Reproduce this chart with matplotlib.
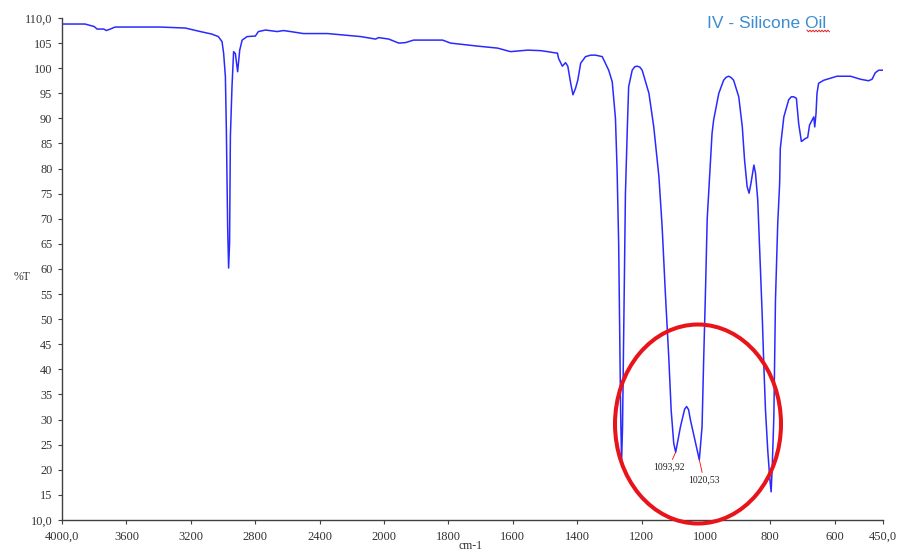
import numpy as np
import matplotlib
matplotlib.use('Agg')
import matplotlib.pyplot as plt
from matplotlib.patches import Ellipse
from matplotlib.lines import Line2D

# spectrum (wavenumber cm-1, %T)
wavenumber = [4000, 3857, 3800, 3782, 3740, 3725, 3700, 3670, 3390, 3234,
              3141, 3070, 3029, 3006, 2996, 2985, 2979, 2971, 2965, 2959,
              2954, 2944, 2934, 2923, 2909, 2896, 2881, 2850, 2799, 2780,
              2736, 2663, 2624, 2581, 2500, 2350, 2251, 2145, 2052, 2033,
              1985, 1954, 1933, 1908, 1818, 1793, 1709, 1647, 1607, 1554,
              1514, 1492, 1473, 1461, 1458, 1446, 1436, 1429, 1420, 1413,
              1405, 1398, 1389, 1374, 1358, 1343, 1322, 1302, 1291, 1281, 1276,
              1271, 1267, 1265, 1262, 1259, 1255, 1250, 1244, 1240, 1229, 1221,
              1213, 1205, 1198, 1177, 1162, 1146, 1136, 1126, 1115, 1108, 1100,
              1093.92, 1079, 1066, 1060, 1054, 1048, 1032, 1020.53, 1012, 1007, 1001.5, 996,
              988, 981, 976, 970, 960, 945, 937, 929, 921, 914, 898, 887,
              880, 872, 866, 860, 856, 851, 846, 841, 839, 833,
              825, 820, 815, 808, 802, 797.5, 794, 789, 784, 777,
              771, 769, 758, 743, 735, 727, 719, 712, 703.5, 691, 684,
              678, 670, 665, 662, 658, 655, 650, 634, 613, 593,
              551, 520, 495, 484, 474, 463, 450]
transmittance = [108.8, 108.8, 108.3, 107.8, 107.8, 107.5, 107.8, 108.2, 108.2, 108.0,
                 107.3, 106.8, 106.3, 105.3, 103.0, 98.3, 87.7, 68.4, 60.2, 65.2,
                 86.4, 96.3, 103.3, 102.9, 99.3, 103.6, 105.6, 106.3, 106.4, 107.3,
                 107.6, 107.3, 107.5, 107.3, 106.9, 106.9, 106.6, 106.3, 105.8, 106.1,
                 105.8, 105.0, 105.1, 105.6, 105.6, 105.0, 104.4, 104.0, 103.3, 103.6,
                 103.5, 103.3, 103.1, 103.0, 102.0, 100.4, 101.1, 100.4, 97.0, 94.7,
                 96.0, 97.6, 101.0, 102.3, 102.6, 102.6, 102.3, 99.6, 97.3, 90.0, 80.0,
                 65.0, 43.0, 32.0, 21.5, 28.6, 48.5, 75.0, 88.3, 96.3, 99.6, 100.3,
                 100.4, 100.2, 99.6, 95.0, 88.3, 78.4, 68.4, 55.2, 41.9, 31.9, 25.3,
                 23.5, 28.6, 32.1, 32.6, 32.0, 29.9, 25.3, 22.0, 28.6, 41.9, 55.2, 70.0,
                 79.0, 87.0, 89.7, 91.7, 95.0, 97.6, 98.2, 98.4, 98.1, 97.6, 94.3, 88.3,
                 81.7, 76.4, 75.1, 77.1, 78.7, 80.7, 79.1, 75.1, 73.7, 63.8,
                 50.5, 40.5, 31.9, 23.9, 18.6, 15.6, 20.6, 30.6, 53.8, 69.0,
                 77.1, 84.0, 90.3, 93.7, 94.3, 94.3, 94.0, 89.0, 85.4, 86.0, 86.2,
                 88.7, 89.7, 90.3, 88.3, 91.0, 95.0, 97.0, 97.6, 98.0, 98.4,
                 98.4, 97.8, 97.5, 97.8, 99.1, 99.6, 99.6]

x_ticks = [4000, 3600, 3200, 2800, 2400, 2000, 1800, 1600, 1400, 1200, 1000, 800, 600, 450]
x_ticklabels = ['4000,0', '3600', '3200', '2800', '2400', '2000', '1800', '1600',
                '1400', '1200', '1000', '800', '600', '450,0']
y_ticks = list(range(10, 111, 5))
y_ticklabels = ['10,0'] + [str(v) for v in y_ticks[1:-1]] + ['110,0']

peak_labels = ['1093,92', '1020,53']
peak_positions = [1093.92, 1020.53]


# spectrometer style axis: scale doubles below 2000 cm-1
def fwd(x):
    x = np.asarray(x, dtype=float)
    return np.where(x >= 2000, x, 2 * x - 2000)


def inv(y):
    y = np.asarray(y, dtype=float)
    return np.where(y >= 2000, y, (y + 2000) / 2)


serif = 'Liberation Serif'
fig = plt.figure(figsize=(9.05, 5.53), dpi=100)
ax = fig.add_axes([62 / 905, 1 - 520 / 553, (883 - 62) / 905, (520 - 18) / 553])
ax.set_xscale('function', functions=(fwd, inv))
ax.plot(wavenumber, transmittance, color='#2a2aff', lw=1.1)
ax.set_xlim(4000, 450)
ax.set_ylim(10, 110)

ax.set_xticks(x_ticks)
ax.set_xticklabels(x_ticklabels, fontsize=9, family=serif, color='#333333')
ax.xaxis.set_minor_locator(matplotlib.ticker.NullLocator())
ax.set_yticks(y_ticks)
ax.set_yticklabels(y_ticklabels, fontsize=8.8, family=serif, color='#333333')
ax.tick_params(axis='x', direction='out', length=3, width=0.8, color='#404040', pad=5)
ax.tick_params(axis='y', direction='out', length=3, width=0.8, color='#404040', pad=4)
for s in ['top', 'right']:
    ax.spines[s].set_visible(False)
for s in ['left', 'bottom']:
    ax.spines[s].set_color('#404040')
    ax.spines[s].set_linewidth(1.0)

fig.text(470 / 905, 1 - 546 / 553, 'cm-1', fontsize=8.5, family=serif, color='#333333',
         ha='center', va='center')
fig.text(22 / 905, 1 - 277 / 553, '%T', fontsize=8.5, family=serif, color='#333333',
         ha='center', va='center')

# peak labels with red leader lines
offsets = [(-4.7, -10.4), (3.2, -14.4)]
for lab, pos, off in zip(peak_labels, peak_positions, offsets):
    yv = transmittance[wavenumber.index(pos)]
    ax.annotate(lab, xy=(pos, yv), xytext=off, textcoords='offset points',
                fontsize=7, family=serif, color='#222222', ha='center', va='center',
                arrowprops=dict(arrowstyle='-', color='red', lw=0.6, shrinkA=0, shrinkB=0))

# red circle around the Si-O-Si doublet
ell = Ellipse((698 / 905, 1 - 424 / 553), 166 / 905, 199 / 553,
              transform=fig.transFigure, fill=False, edgecolor='#e8141a', lw=2.9,
              clip_on=False)
fig.add_artist(ell)

# title with spell-check squiggle under "Oil"
fig.text(707 / 905, 1 - 28.3 / 553, 'IV - Silicone Oil', fontsize=12.5,
         family='Liberation Sans', color='#3c8dd0', va='baseline', ha='left')
sx = np.arange(807, 830, 1.5)
sy = 31 + np.where(np.arange(len(sx)) % 2 == 0, -0.8, 0.8)
fig.add_artist(Line2D(sx / 905, 1 - sy / 553, transform=fig.transFigure,
                      color='#e02020', lw=0.7))

fig.savefig('out.png', dpi=100)
